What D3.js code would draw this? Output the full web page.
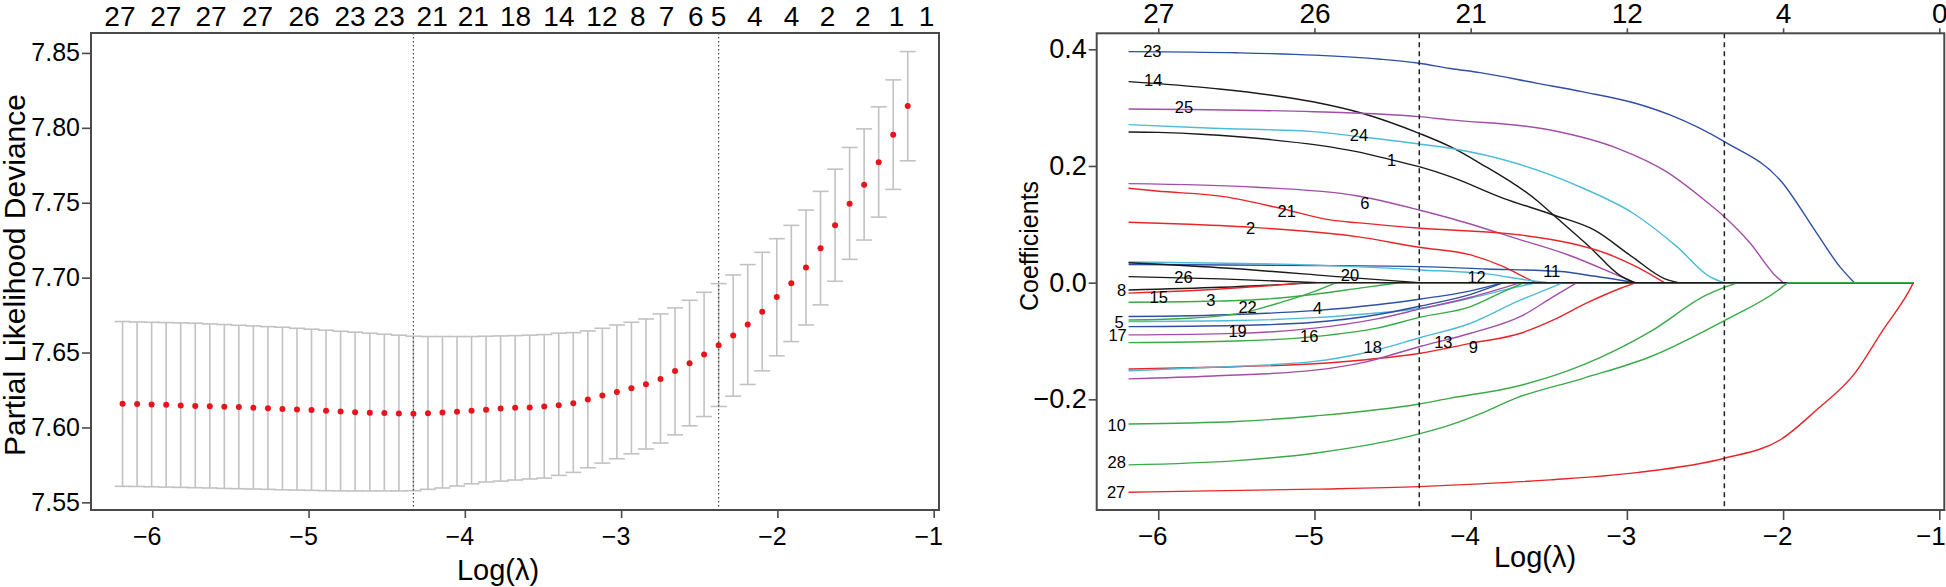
<!DOCTYPE html>
<html><head><meta charset="utf-8">
<script src="https://cdn.jsdelivr.net/npm/d3@7"></script>
<style>
html,body{margin:0;padding:0;background:#fff;}
svg{display:block;font-family:"Liberation Sans",Arial,Helvetica,sans-serif;}
</style></head><body>
<svg id="chart" width="1946" height="587"></svg>
<script>
// ---------------- LEFT PANEL DATA (cross-validation) ----------------
const logLambda = [-6.190,-6.097,-6.004,-5.911,-5.818,-5.725,-5.632,-5.539,-5.446,-5.353,
  -5.260,-5.167,-5.074,-4.981,-4.888,-4.795,-4.702,-4.608,-4.515,-4.422,
  -4.329,-4.236,-4.143,-4.050,-3.957,-3.864,-3.771,-3.678,-3.585,-3.492,
  -3.399,-3.306,-3.213,-3.120,-3.027,-2.934,-2.841,-2.748,-2.655,-2.562,
  -2.469,-2.376,-2.283,-2.190,-2.097,-2.004,-1.911,-1.817,-1.724,-1.631,
  -1.538,-1.445,-1.352,-1.259,-1.166];
const cvMean = [7.6158,7.6156,7.6153,7.6151,7.6147,7.6144,7.6142,7.6138,7.6136,7.6131,
  7.6129,7.6124,7.6120,7.6116,7.6111,7.6107,7.6102,7.6098,7.6096,7.6093,
  7.6091,7.6095,7.6099,7.6104,7.6112,7.6118,7.6127,7.6131,7.6133,7.6140,
  7.6149,7.6162,7.6187,7.6213,7.6236,7.6262,7.6289,7.6324,7.6376,7.6429,
  7.6487,7.6549,7.6613,7.6687,7.6773,7.6870,7.6962,7.7067,7.7196,7.7349,
  7.7493,7.7620,7.7771,7.7953,7.8145];
const cvUpper = [7.6707,7.6704,7.6702,7.6700,7.6698,7.6696,7.6691,7.6687,7.6682,7.6678,
  7.6673,7.6669,7.6662,7.6656,7.6649,7.6642,7.6636,7.6629,7.6622,7.6616,
  7.6609,7.6607,7.6607,7.6607,7.6607,7.6609,7.6611,7.6613,7.6616,7.6620,
  7.6629,7.6633,7.6644,7.6662,7.6684,7.6702,7.6724,7.6758,7.6798,7.6849,
  7.6902,7.6960,7.7018,7.7087,7.7169,7.7260,7.7349,7.7451,7.7576,7.7724,
  7.7869,7.7993,7.8140,7.8320,7.8509];
const cvLower = [7.5607,7.5606,7.5604,7.5602,7.5600,7.5598,7.5596,7.5593,7.5591,7.5589,
  7.5587,7.5584,7.5582,7.5580,7.5578,7.5577,7.5576,7.5576,7.5576,7.5576,
  7.5578,7.5587,7.5596,7.5609,7.5624,7.5636,7.5642,7.5649,7.5656,7.5662,
  7.5680,7.5700,7.5731,7.5762,7.5791,7.5824,7.5856,7.5896,7.5951,7.6011,
  7.6073,7.6140,7.6209,7.6287,7.6378,7.6478,7.6573,7.6684,7.6818,7.6976,
  7.7122,7.7251,7.7404,7.7589,7.7780];
const topLabelPosL = [-6.207,-5.914,-5.624,-5.326,-5.029,-4.735,-4.484,-4.209,-3.946,-3.675,
  -3.398,-3.123,-2.893,-2.709,-2.523,-2.376,-2.144,-1.909,-1.679,-1.453,-1.237,-1.045];
const topLabelTextL = ["27","27","27","27","26","23","23","21","21","18",
  "14","12","8","7","6","5","4","4","2","2","1","1"];
const yTicksL = [7.55,7.60,7.65,7.70,7.75,7.80,7.85];
const xTicks = [-6,-5,-4,-3,-2,-1];
const lambdaLines = [-4.329,-2.376];   // lambda.min, lambda.1se

// ---------------- RIGHT PANEL DATA (coefficient paths) ----------------
const topLabelTextR = ["27","26","21","12","4","0"];
const yTicksR = [-0.2,0.0,0.2,0.4];
const varLabels = ["1","2","3","4","5","6","8","9","10","11","12","13","14","15",
  "16","17","18","19","20","21","22","23","24","25","26","27","28"];
const path1  = [[-6.19,0.2583],[-6.0,0.2575],[-5.7,0.254],[-5.37,0.2474],[-4.73,0.2245],[-4.52,0.2114],[-4.33,0.1988],[-4.13,0.1817],[-3.79,0.1446],[-3.47,0.116],[-3.21,0.0903],[-2.97,0.045],[-2.76,0.007],[-2.67,0]];
const path2  = [[-6.19,0.1035],[-5.8,0.100],[-5.37,0.0943],[-4.73,0.0788],[-4.33,0.0607],[-4.0,0.0475],[-3.79,0.0274],[-3.62,0.0046],[-3.58,0]];
const path3  = [[-6.19,-0.0336],[-5.7,-0.032],[-5.3,-0.028],[-5.0,-0.020],[-4.7,-0.009],[-4.45,0]];
const path4  = [[-6.19,-0.058],[-5.5,-0.0545],[-5.0,-0.048],[-4.6,-0.038],[-4.32,-0.028],[-4.0,-0.014],[-3.79,0]];
const path5  = [[-6.19,-0.0668],[-5.5,-0.065],[-5.0,-0.060],[-4.6,-0.052],[-4.32,-0.044],[-3.9,-0.02],[-3.65,-0.004],[-3.58,0]];
const path6  = [[-6.19,0.1697],[-5.37,0.1635],[-4.73,0.149],[-4.33,0.1246],[-4.13,0.1104],[-3.7,0.075],[-3.37,0.047],[-3.08,0.015],[-2.95,0]];
const path8  = [[-6.19,-0.0125],[-5.6,-0.008],[-4.98,0]];
const path9  = [[-6.19,-0.148],[-5.65,-0.145],[-5.0,-0.139],[-4.69,-0.1325],[-4.32,-0.121],[-4.0,-0.104],[-3.68,-0.0867],[-3.47,-0.064],[-3.26,-0.0353],[-3.04,-0.0096],[-2.94,0]];
const path10 = [[-6.19,-0.2422],[-5.5,-0.238],[-5.0,-0.2285],[-4.33,-0.208],[-4.13,-0.198],[-3.71,-0.178],[-3.28,-0.141],[-2.85,-0.084],[-2.49,-0.021],[-2.376,-0.008],[-2.29,0]];
const path11 = [[-6.19,0.031],[-5.0,0.0295],[-4.32,0.0274],[-3.9,0.0235],[-3.42,0.019],[-3.26,0.0132],[-2.94,0]];
const path12 = [[-6.19,0.0355],[-5.0,0.030],[-4.32,0.0218],[-3.9,0.015],[-3.6,0.003],[-3.5,0]];
const path13 = [[-6.19,-0.165],[-5.65,-0.160],[-5.0,-0.150],[-4.69,-0.137],[-4.32,-0.109],[-4.0,-0.0867],[-3.68,-0.058],[-3.47,-0.024],[-3.32,0]];
const path14 = [[-6.19,0.3445],[-5.65,0.333],[-5.01,0.310],[-4.69,0.290],[-4.33,0.256],[-4.13,0.233],[-3.94,0.2046],[-3.58,0.1417],[-3.47,0.116],[-3.24,0.0617],[-3.04,0.0115],[-2.95,0]];
const path15 = [[-6.19,-0.018],[-5.6,-0.011],[-5.03,0]];
const path16 = [[-6.19,-0.1028],[-5.5,-0.100],[-5.0,-0.0925],[-4.6,-0.078],[-4.32,-0.059],[-4.0,-0.041],[-3.79,-0.0154],[-3.66,0]];
const path17 = [[-6.19,-0.0754],[-5.5,-0.0735],[-5.0,-0.068],[-4.6,-0.055],[-4.32,-0.040],[-4.0,-0.020],[-3.79,0]];
const path18 = [[-6.19,-0.151],[-5.65,-0.145],[-5.0,-0.135],[-4.69,-0.121],[-4.32,-0.094],[-4.0,-0.0696],[-3.68,-0.0297],[-3.47,-0.007],[-3.41,0]];
const path19 = [[-6.19,-0.0896],[-5.5,-0.087],[-5.0,-0.078],[-4.6,-0.062],[-4.32,-0.045],[-4.0,-0.025],[-3.68,0]];
const path20 = [[-6.19,0.034],[-5.55,0.0246],[-4.77,0.0086],[-4.33,0]];
const path21 = [[-6.19,0.1618],[-6.01,0.157],[-5.58,0.1474],[-5.22,0.1275],[-4.9,0.1075],[-4.73,0.1028],[-4.32,0.0932],[-3.68,0.0817],[-3.36,0.0675],[-3.13,0.050],[-2.94,0.0274],[-2.76,0]];
const path22 = [[-6.19,-0.064],[-5.8,-0.061],[-5.43,-0.050],[-5.2,-0.0325],[-5.03,-0.018],[-4.86,0]];
const path23 = [[-6.19,0.396],[-5.5,0.394],[-5.0,0.390],[-4.58,0.383],[-4.33,0.376],[-4.13,0.367],[-3.94,0.360],[-3.58,0.342],[-3.28,0.327],[-2.94,0.307],[-2.72,0.287],[-2.376,0.2416],[-2.01,0.173],[-1.785,0.085],[-1.636,0.027],[-1.544,0]];
const path24 = [[-6.19,0.2708],[-5.65,0.2646],[-5.01,0.2588],[-4.71,0.250],[-4.33,0.2377],[-4.13,0.2303],[-3.71,0.2046],[-3.28,0.1618],[-2.96,0.119],[-2.68,0.0617],[-2.47,0.0103],[-2.38,0]];
const path25 = [[-6.19,0.2977],[-5.0,0.293],[-4.33,0.2845],[-4.13,0.279],[-3.49,0.2617],[-3.06,0.2303],[-2.745,0.190],[-2.49,0.1388],[-2.376,0.113],[-2.21,0.0675],[-2.06,0.015],[-2.0,0]];
const path26 = [[-6.19,0.0103],[-5.6,0.0065],[-4.98,0]];
const path27 = [[-6.19,-0.3592],[-5.0,-0.354],[-4.33,-0.3496],[-3.94,-0.345],[-3.49,-0.338],[-2.94,-0.3256],[-2.376,-0.301],[-2.01,-0.268],[-1.785,-0.218],[-1.54,-0.155],[-1.36,-0.081],[-1.19,-0.0125],[-1.166,0]];
const path28 = [[-6.19,-0.3124],[-5.5,-0.305],[-5.0,-0.2924],[-4.33,-0.2593],[-4.13,-0.2439],[-3.94,-0.225],[-3.71,-0.198],[-3.28,-0.164],[-2.85,-0.127],[-2.376,-0.065],[-2.03,-0.0125],[-1.97,0]];
const coefPaths = [path1,path2,path3,path4,path5,path6,path8,path9,path10,path11,path12,path13,path14,
  path15,path16,path17,path18,path19,path20,path21,path22,path23,path24,path25,path26,path27,path28];
// in-plot variable labels: position in (log lambda, coefficient)
const pathLabelText = ["23","14","25","24","1","6","21","2","26","20","8","15","3","22","4","5","17","19","16","18","12","11","13","9","10","28","27"];
const pathLabelX = [-6.038,-6.032,-5.835,-4.715,-4.506,-4.677,-5.178,-5.409,-5.838,-4.773,-6.234,-5.997,-5.663,-5.428,-4.98,-6.25,-6.26,-5.492,-5.033,-4.627,-3.962,-3.481,-4.175,-3.983,-6.266,-6.266,-6.27];
const pathLabelY = [0.3976,0.3474,0.3006,0.2531,0.2103,0.1361,0.1234,0.0943,0.0103,0.0132,-0.0125,-0.024,-0.0297,-0.0411,-0.0439,-0.0668,-0.0896,-0.0823,-0.0913,-0.1097,0.0093,0.0206,-0.1011,-0.1097,-0.2439,-0.3068,-0.3592];

// ---------------- STYLE ----------------
const palette = ["#1a1a1a","#e8262a","#3aaa48","#2e4fa3","#4cbcd6","#a24ea8"];
const frameColor = "#4a4a4a";

const svg = d3.select("#chart");

function styleAxis(g, fs, dx) {
  g.select(".domain").remove();
  g.selectAll(".tick line").attr("stroke", frameColor).attr("stroke-width", 1.6);
  const t = g.selectAll(".tick text").attr("fill", "#000").style("font-size", fs + "px")
    .style("font-family", '"Liberation Sans", Arial, sans-serif');
  if (dx) t.attr("dx", dx);
}

// ================= LEFT PANEL =================
const L = {x0: 91, x1: 939, y0: 33, y1: 510};
const xL = d3.scaleLinear().domain([-6.392, -0.966]).range([L.x0, L.x1]);
const yL = d3.scaleLinear().domain([7.5449, 7.8633]).range([L.y1, L.y0]);

const gL = svg.append("g");
// error bars
const eb = gL.append("g").attr("stroke", "#c2c2c2").attr("stroke-width", 1.6).attr("fill", "none");
logLambda.forEach((lx, i) => {
  const x = xL(lx);
  eb.append("line").attr("x1", x).attr("x2", x).attr("y1", yL(cvLower[i])).attr("y2", yL(cvUpper[i]));
  eb.append("line").attr("x1", x - 8).attr("x2", x + 8).attr("y1", yL(cvUpper[i])).attr("y2", yL(cvUpper[i]));
  eb.append("line").attr("x1", x - 8).attr("x2", x + 8).attr("y1", yL(cvLower[i])).attr("y2", yL(cvLower[i]));
});
// lambda lines (dotted)
gL.selectAll(".vl").data(lambdaLines).enter().append("line")
  .attr("x1", d => xL(d)).attr("x2", d => xL(d)).attr("y1", L.y0).attr("y2", L.y1)
  .attr("stroke", "#444").attr("stroke-width", 1.2).attr("stroke-dasharray", "1.5,2.5");
// points
gL.selectAll(".pt").data(logLambda).enter().append("circle")
  .attr("cx", d => xL(d)).attr("cy", (d, i) => yL(cvMean[i])).attr("r", 3)
  .attr("fill", "#e8141c");
// frame
gL.append("rect").attr("x", L.x0).attr("y", L.y0).attr("width", L.x1 - L.x0).attr("height", L.y1 - L.y0)
  .attr("fill", "none").attr("stroke", frameColor).attr("stroke-width", 2);
// axes
gL.append("g").attr("transform", `translate(${L.x0},0)`)
  .call(d3.axisLeft(yL).tickValues(yTicksL).tickFormat(d3.format(".2f")).tickSize(9).tickPadding(2))
  .call(g => styleAxis(g, 25));
gL.append("g").attr("transform", `translate(0,${L.y1})`)
  .call(d3.axisBottom(xL).tickValues(xTicks).tickFormat(d3.format("d")).tickSize(8).tickPadding(9))
  .call(g => styleAxis(g, 25, -5.5));
// top labels (number of nonzero)
gL.selectAll(".tl").data(topLabelPosL).enter().append("text")
  .attr("x", d => xL(d)).attr("y", 26).attr("text-anchor", "middle")
  .style("font-size", "28px").attr("fill", "#000").text((d, i) => topLabelTextL[i]);
// titles
gL.append("text").attr("x", 498).attr("y", 580).attr("text-anchor", "middle")
  .style("font-size", "29px").text("Log(λ)");
gL.append("text").attr("transform", "translate(24.5,275) rotate(-90)").attr("text-anchor", "middle")
  .style("font-size", "30px").text("Partial Likelihood Deviance");

// ================= RIGHT PANEL =================
const R = {x0: 1096.7, x1: 1944.3, y0: 33.3, y1: 510};
const xR = d3.scaleLinear().domain([-6.394, -0.968]).range([R.x0, R.x1]);
const yR = d3.scaleLinear().domain([-0.3897, 0.4274]).range([R.y1, R.y0]);
const gR = svg.append("g");
const lastLambda = logLambda[logLambda.length - 1];
const curveLine = d3.line().x(d => xR(d[0])).y(d => yR(d[1])).curve(d3.curveMonotoneX);

coefPaths.forEach((p, i) => {
  const col = palette[i % palette.length];
  gR.append("path").attr("d", curveLine(p)).attr("fill", "none")
    .attr("stroke", col).attr("stroke-width", 1.4);
  const end = p[p.length - 1];
  if (end[0] < lastLambda) {
    gR.append("line").attr("x1", xR(end[0])).attr("x2", xR(lastLambda))
      .attr("y1", yR(0)).attr("y2", yR(0)).attr("stroke", col).attr("stroke-width", 1.4);
  }
});
// lambda lines (dashed)
gR.selectAll(".vl").data(lambdaLines).enter().append("line")
  .attr("x1", d => xR(d)).attr("x2", d => xR(d)).attr("y1", R.y0).attr("y2", R.y1)
  .attr("stroke", "#222").attr("stroke-width", 1.5).attr("stroke-dasharray", "5,4");
// path labels
gR.selectAll(".pl").data(pathLabelText).enter().append("text")
  .attr("x", (d, i) => xR(pathLabelX[i])).attr("y", (d, i) => yR(pathLabelY[i]))
  .attr("dy", "0.36em").attr("text-anchor", "middle")
  .style("font-size", "16.5px").attr("fill", "#000").text(d => d);
// frame
gR.append("rect").attr("x", R.x0).attr("y", R.y0).attr("width", R.x1 - R.x0).attr("height", R.y1 - R.y0)
  .attr("fill", "none").attr("stroke", frameColor).attr("stroke-width", 2);
// axes
gR.append("g").attr("transform", `translate(${R.x0},0)`)
  .call(d3.axisLeft(yR).tickValues(yTicksR).tickFormat(d3.format(".1f")).tickSize(8).tickPadding(2))
  .call(g => styleAxis(g, 27));
gR.append("g").attr("transform", `translate(0,${R.y1})`)
  .call(d3.axisBottom(xR).tickValues(xTicks).tickFormat(d3.format("d")).tickSize(10).tickPadding(6.5))
  .call(g => {
    styleAxis(g, 26, -6);
    // keep the last label inside the picture, as in the reference
    g.selectAll(".tick text").filter(d => d === xTicks[xTicks.length - 1]).attr("dx", -9);
  });
gR.append("g").attr("transform", `translate(0,${R.y0})`)
  .call(d3.axisTop(xR).tickValues(xTicks).tickFormat((d, i) => topLabelTextR[i]).tickSize(5).tickPadding(5.6))
  .call(g => styleAxis(g, 28));
// titles
gR.append("text").attr("x", 1535).attr("y", 567).attr("text-anchor", "middle")
  .style("font-size", "29px").text("Log(λ)");
gR.append("text").attr("transform", "translate(1038,246) rotate(-90)").attr("text-anchor", "middle")
  .style("font-size", "25px").text("Coefficients");
</script></body></html>
